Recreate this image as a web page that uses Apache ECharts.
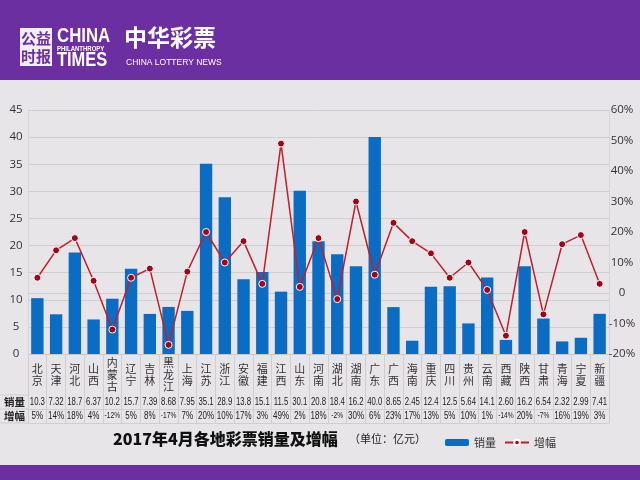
<!DOCTYPE html>
<html><head><meta charset="utf-8">
<script src="https://cdn.jsdelivr.net/npm/echarts@6/dist/echarts.min.js"></script>
<style>html,body{margin:0;padding:0;background:#e7e5e8;}#c{width:640px;height:480px;}</style>
</head><body><div id="c"></div>
<script>
const provinces = ['北京','天津','河北','山西','内蒙古','辽宁','吉林','黑龙江','上海','江苏','浙江','安徽','福建','江西','山东','河南','湖北','湖南','广东','广西','海南','重庆','四川','贵州','云南','西藏','陕西','甘肃','青海','宁夏','新疆'];
const sales = [10.3,7.32,18.7,6.37,10.2,15.7,7.39,8.68,7.95,35.1,28.9,13.8,15.1,11.5,30.1,20.8,18.4,16.2,40.0,8.65,2.45,12.4,12.5,5.64,14.1,2.60,16.2,6.54,2.32,2.99,7.41];
const growth = [5,14,18,4,-12,5,8,-17,7,20,10,17,3,49,2,18,-2,30,6,23,17,13,5,10,1,-14,20,-7,16,19,3];
const leftTicks = {min:0, max:45, interval:5};
const rightTicks = {min:-20, max:60, interval:10};

const salesLabels = sales.map(v => v.toPrecision(3));
const growthLabels = growth.map(v => v + '%');

const chart = echarts.init(document.getElementById('c'));
const cjk = "'Noto Sans CJK SC',sans-serif";
const gridLine = '#cfcfcf';

function tableRow(labels, rowY, fontFn) {
  return {
    type:'custom', xAxisIndex:0, yAxisIndex:0, clip:false, silent:true, z:3,
    data: labels.map((t, i) => [i, 0]),
    renderItem: (params, api) => {
      const i = api.value(0);
      const x = api.coord([i, 0])[0];
      const t = labels[i];
      const f = fontFn(t);
      return {type:'text', x: x, y: rowY, scaleX: f.s, scaleY: 1,
        style:{text: t, font: f.font, fill:'#222', textAlign:'center', textVerticalAlign:'middle'}};
    }
  };
}

chart.setOption({
  backgroundColor: '#e7e5e8',
  animation: false,
  grid: {left: 28, right: 31, top: 110, bottom: 126},
  legend: {
    left: 440, top: 432, itemGap: 8, itemWidth: 24, itemHeight: 7,
    textStyle: {fontSize: 11, color: '#333', fontFamily: cjk},
    data: ['销量','增幅']
  },
  xAxis: [
    {type:'category', data: provinces, position:'bottom',
     axisLine:{show:true, lineStyle:{color:'#c8c8c8'}},
     axisTick:{show:true, length:69, lineStyle:{color:gridLine}},
     axisLabel:{interval:0, margin:21, verticalAlign:'middle', lineHeight:12, fontSize:11, color:'#333', fontFamily:cjk,
       formatter: v => v.split('').join('\n')}},
    {type:'category', data: provinces, position:'bottom', offset:41,
     axisLine:{show:true, lineStyle:{color:gridLine}}, axisTick:{show:false}, axisLabel:{show:false}},
    {type:'category', data: provinces, position:'bottom', offset:55,
     axisLine:{show:true, lineStyle:{color:gridLine}}, axisTick:{show:false}, axisLabel:{show:false}},
    {type:'category', data: provinces, position:'bottom', offset:69,
     axisLine:{show:true, lineStyle:{color:gridLine}}, axisTick:{show:false}, axisLabel:{show:false}}
  ],
  yAxis: [
    {type:'value', min:leftTicks.min, max:leftTicks.max, interval:leftTicks.interval,
     axisLine:{show:true, lineStyle:{color:'#d6d6d6'}}, axisTick:{show:false},
     splitLine:{lineStyle:{color:gridLine}},
     axisLabel:{fontSize:11.5, color:'#333', align:'center', margin:12, fontFamily:"'Open Sans',sans-serif"}},
    {type:'value', min:rightTicks.min, max:rightTicks.max, interval:rightTicks.interval, position:'right',
     axisLine:{show:true, lineStyle:{color:'#d6d6d6'}}, axisTick:{show:false}, splitLine:{show:false},
     axisLabel:{fontSize:11.5, color:'#333', align:'center', margin:13, fontFamily:"'Open Sans',sans-serif",
       formatter: v => v === 0 ? '0' : v + '%'}}
  ],
  series: [
    {name:'销量', type:'bar', data: sales, xAxisIndex:0, yAxisIndex:0, barWidth:'66%',
     itemStyle:{color:'#0b6cc3'}},
    {name:'增幅', type:'line', data: growth, xAxisIndex:0, yAxisIndex:1, z:5,
     symbol:'circle', symbolSize:7, showAllSymbol:true,
     lineStyle:{color:'#c01f2c', width:1.5},
     itemStyle:{color:'#a3001b', borderColor:'#ffffff', borderWidth:1}},
    tableRow(salesLabels, 402, t => ({font:"10.5px 'Liberation Sans'", s:0.74})),
    tableRow(growthLabels, 416, t => t.charAt(0)==='-' ? {font:"8.5px 'Liberation Sans'", s:0.78} : {font:"10px 'Liberation Sans'", s:0.8})
  ],
  graphic: [
    {type:'rect', left:0, top:0, shape:{width:640, height:80}, style:{fill:'#6c2fa2'}, z:-1},
    {type:'rect', left:0, top:465, shape:{width:640, height:15}, style:{fill:'#6c2fa2'}, z:-1},
    {type:'rect', left:20, top:28, shape:{width:32, height:38}, style:{fill:'#f2eef5'}},
    {type:'text', left:21, top:29, style:{text:'公益\n时报', font:"bold 15px 'Noto Sans CJK SC'", fill:'#6c2fa2', lineHeight:18}},
    {type:'text', x:57, y:26, scaleX:0.8, style:{text:'CHINA', font:"bold 21px 'Liberation Sans'", fill:'#ffffff'}},
    {type:'text', x:57, y:45, scaleX:0.75, style:{text:'PHILANTHROPY', font:"bold 8px 'Liberation Sans'", fill:'#ffffff'}},
    {type:'text', x:57, y:50, scaleX:0.82, style:{text:'TIMES', font:"bold 20px 'Liberation Sans'", fill:'#ffffff'}},
    {type:'text', x:124, y:26, style:{text:'中华彩票', font:"bold 23px 'Noto Sans CJK SC'", fill:'#ffffff'}},
    {type:'text', x:126, y:58, style:{text:'CHINA LOTTERY NEWS', font:"8.5px 'Liberation Sans'", fill:'#ffffff'}},
    {type:'line', shape:{x1:0, y1:395, x2:28, y2:395}, style:{stroke:gridLine}},
    {type:'line', shape:{x1:0, y1:409, x2:28, y2:409}, style:{stroke:gridLine}},
    {type:'line', shape:{x1:0, y1:423, x2:28, y2:423}, style:{stroke:gridLine}},
    {type:'text', x:4, y:402, style:{text:'销量', font:"bold 10.5px 'Noto Sans CJK SC'", fill:'#222', verticalAlign:'middle'}},
    {type:'text', x:4, y:416, style:{text:'增幅', font:"bold 10.5px 'Noto Sans CJK SC'", fill:'#222', verticalAlign:'middle'}},
    {type:'text', x:113, y:439, style:{text:'2017年4月各地彩票销量及增幅', font:"900 16px 'Noto Sans CJK SC'", fill:'#111', verticalAlign:'middle'}},
    {type:'text', x:349, y:439, style:{text:'（单位：亿元）', font:"11px 'Noto Sans CJK SC'", fill:'#222', verticalAlign:'middle'}}
  ]
});
</script></body></html>
